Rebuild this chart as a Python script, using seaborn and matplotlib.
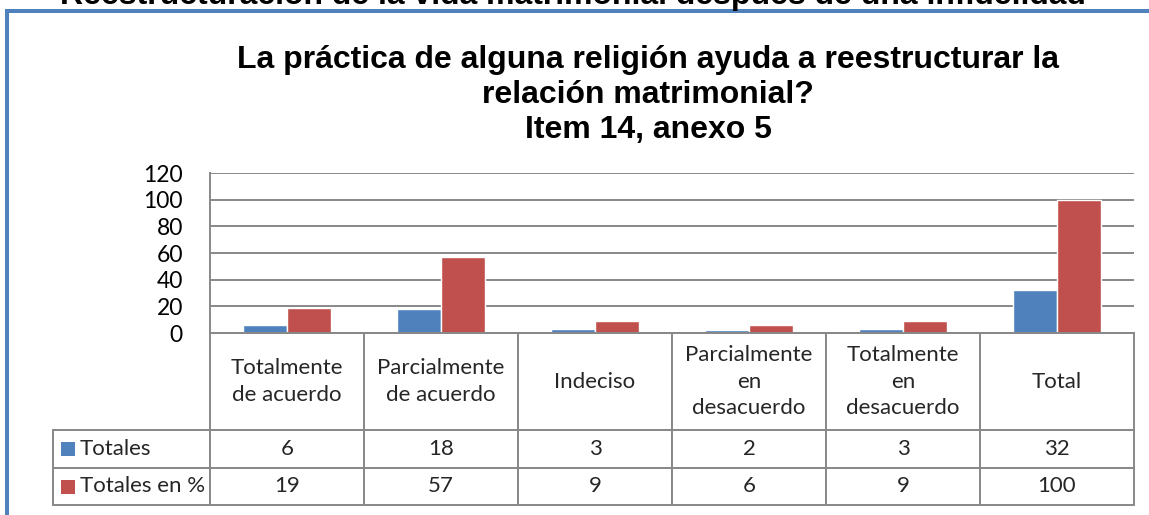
import matplotlib
matplotlib.use("Agg")
import matplotlib.pyplot as plt
import seaborn as sns
import pandas as pd
from matplotlib.patches import Rectangle
from matplotlib.lines import Line2D

# ---- data ----
categories = ["Totalmente\nde acuerdo", "Parcialmente\nde acuerdo", "Indeciso",
              "Parcialmente\nen\ndesacuerdo", "Totalmente\nen\ndesacuerdo", "Total"]
series = ["Totales", "Totales en %"]
totales = [6, 18, 3, 2, 3, 32]
totales_pct = [19, 57, 9, 6, 9, 100]
yticks = [0, 20, 40, 60, 80, 100, 120]
colors = ["#4F81BD", "#C0504D"]
title_lines = ["La práctica de alguna religión ayuda a reestructurar la",
               "relación matrimonial?",
               "Item 14, anexo 5"]
top_title = "Reestructuración de la vida matrimonial después de una infidelidad"

df = pd.DataFrame({
    "cat": categories * 2,
    "serie": [series[0]] * len(categories) + [series[1]] * len(categories),
    "valor": totales + totales_pct,
})

sns.set_theme(style="white")
plt.rcParams["font.family"] = ["Lato", "DejaVu Sans"]

W, H = 1149, 515
fig = plt.figure(figsize=(W / 100, H / 100), dpi=100)
fig.patch.set_facecolor("white")


def fx(px):
    return px / W


def fy(py):
    return 1 - py / H


AX_L, AX_R, AX_T, AX_B = 210, 1134, 173, 333
ax = fig.add_axes([fx(AX_L), fy(AX_B), fx(AX_R) - fx(AX_L), fy(AX_T) - fy(AX_B)])
sns.barplot(data=df, x="cat", y="valor", hue="serie", palette=colors,
            width=0.57, saturation=1, ax=ax, legend=False)

grid_c = "#888888"
ax.set_ylim(0, 120)
ax.set_xlim(-0.5, len(categories) - 0.5)
ax.set_yticks(yticks)
ax.set_yticklabels([str(t) for t in yticks])
ax.set_xticks([])
ax.set_xlabel("")
ax.set_ylabel("")
ax.yaxis.grid(True, color=grid_c, linewidth=1.4)
ax.set_axisbelow(True)
for s in ["top", "right"]:
    ax.spines[s].set_visible(False)
for s in ["left", "bottom"]:
    ax.spines[s].set_color(grid_c)
    ax.spines[s].set_linewidth(1.4)
ax.tick_params(axis="y", length=0, pad=19.5, labelsize=16.5, labelcolor="black")
ax.set_facecolor("white")

# ---- data table ----
TBL_L, TBL_B = 53, 505
ax_w = AX_R - AX_L
ax_h = AX_B - AX_T
cell_text = [[""] + categories,
             [series[0]] + [str(v) for v in totales],
             [series[1]] + [str(v) for v in totales_pct]]
col_w = [157] + [154] * len(categories)
tbl = ax.table(cellText=cell_text, cellLoc="center", colWidths=[w / 1000 for w in col_w],
               bbox=[(TBL_L - AX_L) / ax_w, -(TBL_B - AX_B) / ax_h,
                     (AX_R - TBL_L) / ax_w, (TBL_B - AX_B) / ax_h])
tbl.auto_set_font_size(False)
tbl.set_fontsize(16)
row_h = [97, 38, 37]
for (r, c), cell in tbl.get_celld().items():
    cell.set_height(row_h[r] / 1000)
    cell.set_edgecolor(grid_c)
    cell.set_linewidth(1.4)
    cell.set_facecolor("white")
    cell.get_text().set_linespacing(1.42)
    if r == 0 and c == 0:
        cell.set_edgecolor("none")
    if c == 0 and r > 0:
        cell.get_text().set_ha("left")
        cell._loc = "left"
        cell.PAD = (80 - TBL_L) / 157

# legend keys in row-label cells
row_centers = [449, 487]
for i, col in enumerate(colors):
    yc = row_centers[i]
    ax.add_patch(Rectangle(((61 - AX_L) / ax_w, (AX_B - (yc + 7)) / ax_h),
                           14 / ax_w, 14 / ax_h, transform=ax.transAxes,
                           facecolor=col, edgecolor="none", clip_on=False, zorder=5))

# ---- titles ----
baselines = [68, 103, 138]
for line, yb in zip(title_lines, baselines):
    fig.text(fx(648), fy(yb), line, ha="center", va="baseline", fontsize=23,
             fontweight="bold", family=["Liberation Sans", "DejaVu Sans"], color="black")
fig.text(fx(573), fy(4), top_title, ha="center", va="baseline", fontsize=23,
         fontweight="bold", family=["Liberation Sans", "DejaVu Sans"], color="black")

# ---- outer frame ----
fig.add_artist(Line2D([fx(7), fx(7), fx(W + 5)], [fy(H + 5), fy(11), fy(11)],
                      transform=fig.transFigure, color="#4F81BD", linewidth=2.9,
                      solid_joinstyle="miter"))

fig.savefig("out.png", dpi=100, facecolor="white")
